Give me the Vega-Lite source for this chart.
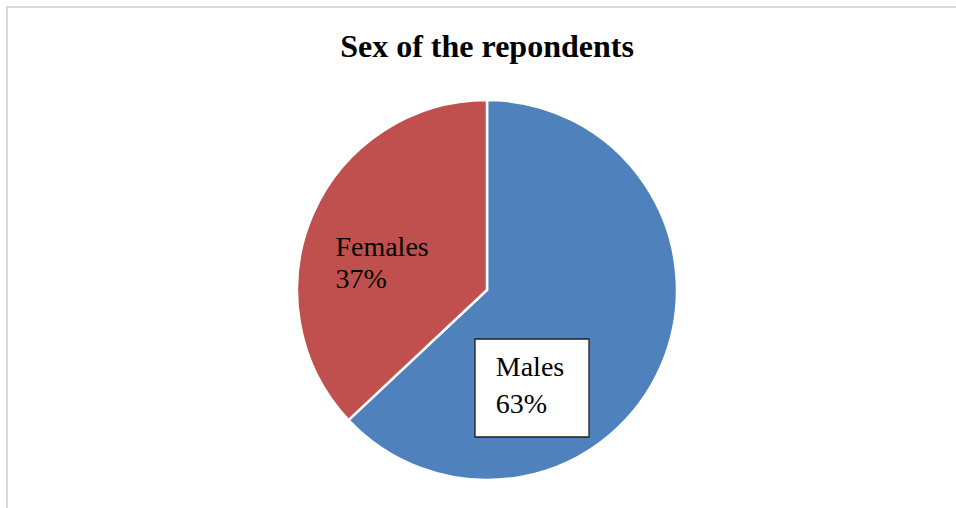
{
  "$schema": "https://vega.github.io/schema/vega-lite/v6.json",
  "width": 960,
  "height": 566,
  "autosize": {"type": "none"},
  "padding": {"top": 7, "left": 7, "right": 0, "bottom": 0},
  "background": "white",
  "view": {"stroke": "#D9D9D9", "strokeWidth": 2, "fill": "white"},
  "config": {"view": {"stroke": "#D9D9D9", "strokeWidth": 2}, "text": {"font": "Liberation Serif"}},
  "title": {
    "text": "Sex of the repondents",
    "font": "Liberation Serif",
    "fontSize": 32,
    "fontWeight": "bold",
    "color": "#000000",
    "anchor": "middle",
    "offset": -57
  },
  "data": {
    "values": [
      {"sex": "Males", "value": 63, "label": "Males\n63%"},
      {"sex": "Females", "value": 37, "label": "Females\n37%"}
    ]
  },
  "layer": [
    {
      "mark": {"type": "arc", "outerRadius": 190, "stroke": "white", "strokeWidth": 2.5},
      "encoding": {
        "theta": {"field": "value", "type": "quantitative", "stack": true},
        "order": {"field": "value", "type": "quantitative", "sort": "descending"},
        "color": {
          "field": "sex",
          "type": "nominal",
          "scale": {"domain": ["Males", "Females"], "range": ["#4F81BD", "#C0504D"]},
          "legend": null
        }
      }
    },
    {
      "transform": [{"filter": "datum.sex === 'Males'"}],
      "mark": {
        "type": "point",
        "shape": "M-0.06,0.245L0.51,0.245L0.51,0.735L-0.06,0.735Z",
        "size": 160000,
        "filled": true,
        "fill": "white",
        "stroke": "#1F1F1F",
        "strokeWidth": 1.3,
        "opacity": 1
      },
      "encoding": {}
    },
    {
      "mark": {
        "type": "text",
        "font": "Liberation Serif",
        "fontSize": 28,
        "align": "left",
        "baseline": "alphabetic",
        "lineBreak": "\n",
        "lineHeight": 32,
        "radius": 163,
        "dx": -2,
        "dy": 31,
        "color": "#000000"
      },
      "encoding": {
        "theta": {"field": "value", "type": "quantitative", "stack": true},
        "order": {"field": "value", "type": "quantitative", "sort": "descending"},
        "text": {"condition": {"test": "datum.sex === 'Females'", "field": "label"}, "value": ""}
      }
    },
    {
      "mark": {
        "type": "text",
        "font": "Liberation Serif",
        "fontSize": 28,
        "align": "left",
        "baseline": "alphabetic",
        "lineBreak": "\n",
        "lineHeight": 37,
        "radius": 100,
        "dx": -83,
        "dy": 46,
        "color": "#000000"
      },
      "encoding": {
        "theta": {"field": "value", "type": "quantitative", "stack": true},
        "order": {"field": "value", "type": "quantitative", "sort": "descending"},
        "text": {"condition": {"test": "datum.sex === 'Males'", "field": "label"}, "value": ""}
      }
    }
  ]
}
